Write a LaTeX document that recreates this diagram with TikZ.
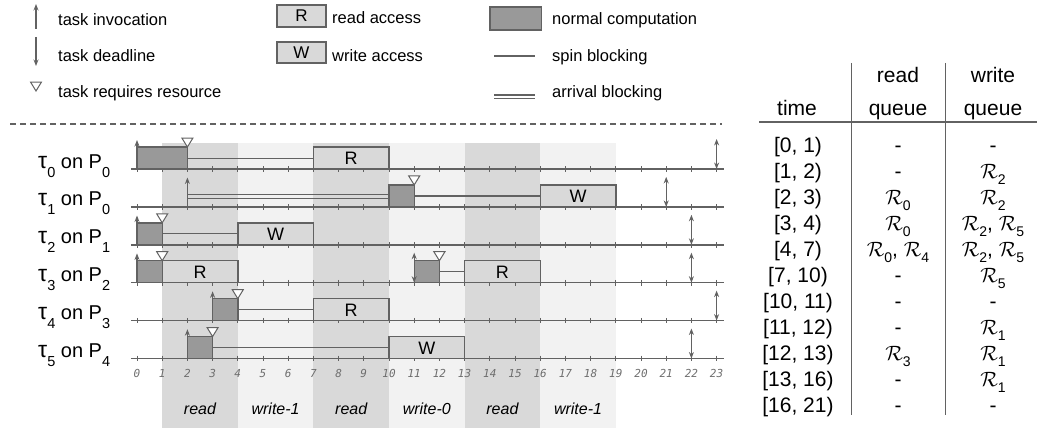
\documentclass[tikz,border=0pt]{standalone}
\usepackage{fontspec}
\setmainfont{Liberation Sans}
\newfontfamily\tickfont{DejaVu Sans Mono}
\usetikzlibrary{arrows.meta}
\definecolor{lc}{HTML}{626262}
\definecolor{compfill}{HTML}{999999}
\definecolor{accfill}{HTML}{D9D9D9}
\definecolor{bandD}{HTML}{D9D9D9}
\definecolor{bandL}{HTML}{F2F2F2}
\definecolor{ticktxt}{HTML}{6E6E6E}
\newcommand\lsub[1]{\raisebox{-9pt}{\fontsize{14.5}{14}\selectfont #1}}
\newcommand\tauc{{\fontsize{23}{24}\selectfont τ}}
\newcommand\Rs[1]{$\mathcal{R}$\raisebox{-6pt}{\fontsize{14}{14}\selectfont #1}}
\newcommand\reqtri[2]{\draw[tri] (#1,#2) -- ++(-0.22,-9) -- ++(0.44,0) -- cycle;}
\tikzset{
  lg/.style={font=\fontsize{16.5}{18}\selectfont, anchor=base west, inner sep=0pt},
  rowlab/.style={font=\fontsize{20}{22}\selectfont, anchor=base west, inner sep=0pt},
  tab/.style={font=\fontsize{21}{24}\selectfont, anchor=base, inner sep=0pt},
  phase/.style={font=\fontsize{16}{18}\selectfont\itshape, anchor=base, inner sep=0pt},
  ticklab/.style={font=\fontsize{11}{12}\selectfont\tickfont\itshape, text=ticktxt, anchor=base, inner sep=0pt},
  axisline/.style={draw=lc, line width=1.4pt},
  comp/.style={draw=lc, fill=compfill, line width=1.4pt},
  acc/.style={draw=lc, fill=accfill, line width=1.4pt},
  acclab/.style={font=\fontsize{18}{20}\selectfont, inner sep=0pt},
  spin/.style={draw=lc, line width=1.2pt},
  tri/.style={draw=lc, fill=white, line width=1pt, line join=miter},
  arr/.style={draw=lc, line width=1.3pt, -{Stealth[length=6.5pt,width=5pt]}},
  darr/.style={draw=lc, line width=1.3pt, {Stealth[length=6.5pt,width=5pt]}-{Stealth[length=6.5pt,width=5pt]}},
  tabline/.style={draw=lc, line width=1.4pt},
}
\begin{document}
\begin{tikzpicture}[x=1pt,y=-1pt]
\useasboundingbox (0,0) rectangle (1038,428);

% ---------- legend ----------
\draw[arr] (36,29) -- (36,4);
\node[lg] (lginv) at (58,26) {task invocation};
\draw[arr] (36,37) -- (36,66);
\node[lg] (lgdl) at (58,61.5) {task deadline};
\draw[tri] (36,91) -- (30.5,82) -- (41.5,82) -- cycle;
\node[lg] (lgreq) at (58,97) {task requires resource};

\draw[acc] (277,5) rectangle (326,27);
\node[acclab, font=\fontsize{17}{18}\selectfont] (lgR) at (301.5,16) {R};
\node[lg] (lgread) at (332,24) {read access};
\draw[acc] (277,42) rectangle (326,63);
\node[acclab, font=\fontsize{17}{18}\selectfont] (lgW) at (301.5,52.5) {W};
\node[lg] (lgwrite) at (332,61.5) {write access};

\draw[comp] (490,7) rectangle (541.5,30);
\node[lg] (lgcomp) at (552,25) {normal computation};
\draw[spin] (494,56) -- (535,56);
\node[lg] (lgspin) at (552,61.5) {spin blocking};
\draw[spin] (494,95) -- (535,95);
\draw[spin] (494,98.5) -- (535,98.5);
\node[lg] (lgarr) at (552,97.5) {arrival blocking};

\draw[draw=lc, line width=1.1pt, dash pattern=on 6pt off 4pt] (10,124) -- (722,124);

% ---------- timeline ----------
\begin{scope}[xshift=137pt, x=25.2pt]
  % bands
  \foreach \a/\c in {1/bandD,4/bandL,7/bandD,10/bandL,13/bandD,16/bandL}
    \fill[\c] (\a,143) rectangle (\a+3,428);
  % axes
  \foreach \r in {0,...,5}{
    \pgfmathsetmacro\yy{169+37.9*\r}
    \draw[axisline] (-0.24,\yy) -- (23.3,\yy);
    \foreach \t in {0,...,23}
      \draw[draw=lc, line width=1pt] (\t,\yy-2.8) -- (\t,\yy+2.8);
  }
  % tick labels
  \foreach \t in {0,...,23}
    \node[ticklab] (tk\t) at (\t,377) {\t};
  % phase labels
  \node[phase] (ph1) at (2.5,414) {read};
  \node[phase] (ph2) at (5.5,414) {write-1};
  \node[phase] (ph3) at (8.5,414) {read};
  \node[phase] (ph4) at (11.5,414) {write-0};
  \node[phase] (ph5) at (14.5,414) {read};
  \node[phase] (ph6) at (17.5,414) {write-1};

  % tau0  y=169
  \draw[comp] (0,147) rectangle (2,169);
  \draw[spin] (2,158.5) -- (7,158.5);
  \draw[acc] (7,147) rectangle (10,169);
  \node[acclab] (b0) at (8.5,158) {R};
  \reqtri{2}{147}
  \draw[arr] (0,169) -- (0,140);
  \draw[darr] (23,139) -- (23,169);

  % tau1  y=206.9
  \draw[spin] (2,194.3) -- (10,194.3);
  \draw[spin] (2,198.2) -- (10,198.2);
  \draw[arr] (2,206.9) -- (2,177.5);
  \draw[comp] (10,184.9) rectangle (11,206.9);
  \draw[spin] (11,195.9) -- (16,195.9);
  \draw[acc] (16,184.9) rectangle (19,206.9);
  \node[acclab] (b1) at (17.5,196) {W};
  \reqtri{11}{184.9}
  \draw[darr] (21,176.9) -- (21,206.9);

  % tau2  y=244.8
  \draw[comp] (0,222.8) rectangle (1,244.8);
  \draw[spin] (1,233.8) -- (4,233.8);
  \draw[acc] (4,222.8) rectangle (7,244.8);
  \node[acclab] (b2) at (5.5,234) {W};
  \reqtri{1}{222.8}
  \draw[arr] (0,244.8) -- (0,215.5);
  \draw[darr] (22,214.8) -- (22,244.8);

  % tau3  y=282.7
  \draw[comp] (0,260.7) rectangle (1,282.7);
  \draw[acc] (1,260.7) rectangle (4,282.7);
  \node[acclab] (b3a) at (2.5,272) {R};
  \reqtri{1}{260.7}
  \draw[arr] (0,282.7) -- (0,253.4);
  \draw[comp] (11,260.7) rectangle (12,282.7);
  \draw[spin] (12,271.7) -- (13,271.7);
  \draw[acc] (13,260.7) rectangle (16,282.7);
  \node[acclab] (b3b) at (14.5,272) {R};
  \reqtri{12}{260.7}
  \draw[darr] (11,252.7) -- (11,282.7);
  \draw[darr] (22,252.7) -- (22,282.7);

  % tau4  y=320.6
  \draw[comp] (3,298.6) rectangle (4,320.6);
  \draw[spin] (4,309.6) -- (7,309.6);
  \draw[acc] (7,298.6) rectangle (10,320.6);
  \node[acclab] (b4) at (8.5,310) {R};
  \reqtri{4}{298.6}
  \draw[arr] (3,320.6) -- (3,291.3);
  \draw[darr] (23,290.6) -- (23,320.6);

  % tau5  y=358.5
  \draw[comp] (2,336.5) rectangle (3,358.5);
  \draw[spin] (3,347.5) -- (10,347.5);
  \draw[acc] (10,336.5) rectangle (13,358.5);
  \node[acclab] (b5) at (11.5,348) {W};
  \reqtri{3}{336.5}
  \draw[arr] (2,358.5) -- (2,329.2);
  \draw[darr] (22,328.5) -- (22,358.5);
\end{scope}

% row labels
\node[rowlab] (l0) at (38,168) {\tauc\lsub{0} on P\lsub{0}};
\node[rowlab] (l1) at (38,205.9) {\tauc\lsub{1} on P\lsub{0}};
\node[rowlab] (l2) at (38,243.8) {\tauc\lsub{2} on P\lsub{1}};
\node[rowlab] (l3) at (38,281.7) {\tauc\lsub{3} on P\lsub{2}};
\node[rowlab] (l4) at (38,319.6) {\tauc\lsub{4} on P\lsub{3}};
\node[rowlab] (l5) at (38,357.5) {\tauc\lsub{5} on P\lsub{4}};

% ---------- table ----------
\draw[tabline] (851.5,63) -- (851.5,415);
\draw[tabline] (945.5,63) -- (945.5,415);
\draw[tabline] (759,122) -- (1037,122);
\node[tab] (htime) at (797,115) {time};
\node[tab] (hr1) at (898,82) {read};
\node[tab] (hr2) at (898,115) {queue};
\node[tab] (hw1) at (993,82) {write};
\node[tab] (hw2) at (993,115) {queue};
\foreach \i/\tm/\rq/\wq in {
  0/{[0, 1)}/{-}/{-},
  1/{[1, 2)}/{-}/{\Rs{2}},
  2/{[2, 3)}/{\Rs{0}}/{\Rs{2}},
  3/{[3, 4)}/{\Rs{0}}/{\Rs{2}, \Rs{5}},
  4/{[4, 7)}/{\Rs{0}, \Rs{4}}/{\Rs{2}, \Rs{5}},
  5/{[7, 10)}/{-}/{\Rs{5}},
  6/{[10, 11)}/{-}/{-},
  7/{[11, 12)}/{-}/{\Rs{1}},
  8/{[12, 13)}/{\Rs{3}}/{\Rs{1}},
  9/{[13, 16)}/{-}/{\Rs{1}},
  10/{[16, 21)}/{-}/{-}}{
  \node[tab] (t\i) at (798,152.7+26*\i) {\tm};
  \node[tab] (r\i) at (898,152.7+26*\i) {\rq};
  \node[tab] (w\i) at (993,152.7+26*\i) {\wq};
}
\end{tikzpicture}
\end{document}
